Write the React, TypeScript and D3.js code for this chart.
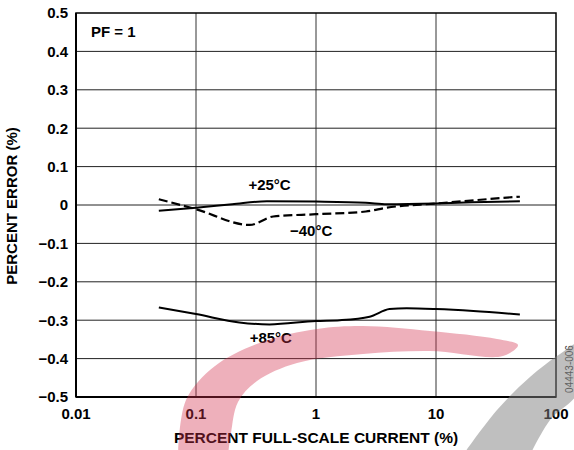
import React from "react";
import * as d3 from "d3";

const W = 574;
const H = 450;

const xTicks = [0.01, 0.1, 1, 10, 100];
const xTickLabels = ["0.01", "0.1", "1", "10", "100"];
const yTicks = [0.5, 0.4, 0.3, 0.2, 0.1, 0, -0.1, -0.2, -0.3, -0.4, -0.5];
const yTickLabels = ["0.5", "0.4", "0.3", "0.2", "0.1", "0", "\u22120.1", "\u22120.2", "\u22120.3", "\u22120.4", "\u22120.5"];

const current25 = [0.049, 0.1, 0.2, 0.39, 1, 2.6, 3.9, 10, 20, 50];
const err25 = [-0.015, -0.007, 0.002, 0.010, 0.009, 0.006, 0.002, 0.004, 0.007, 0.010];

const currentM40 = [0.049, 0.1, 0.28, 0.44, 1, 2.6, 3.9, 10, 50];
const errM40 = [0.015, -0.011, -0.052, -0.030, -0.024, -0.017, -0.007, 0.004, 0.022];

const current85 = [0.049, 0.1, 0.23, 0.41, 1, 1.58, 2.8, 4.1, 5.7, 10, 20.5, 50];
const err85 = [-0.267, -0.284, -0.306, -0.311, -0.302, -0.300, -0.291, -0.271, -0.269, -0.271, -0.276, -0.285];

const seriesLabels = [
  { text: "+25\u00B0C", x: 0.41, y: 0.053 },
  { text: "\u221240\u00B0C", x: 0.91, y: -0.067 },
  { text: "+85\u00B0C", x: 0.42, y: -0.345 },
];

const FONT = "'Liberation Sans', Arial, Helvetica, sans-serif";

export default function App() {
  const left = 76, right = 556, top = 13, bottom = 397;
  const x = d3.scaleLog().domain([0.01, 100]).range([left, right]);
  const y = d3.scaleLinear().domain([-0.5, 0.5]).range([bottom, top]);

  const line = d3
    .line<[number, number]>()
    .x((d) => x(d[0]))
    .y((d) => y(d[1]))
    .curve(d3.curveMonotoneX);

  const p25 = line(current25.map((c, i) => [c, err25[i]]) as [number, number][]) || "";
  const pM40 = line(currentM40.map((c, i) => [c, errM40[i]]) as [number, number][]) || "";
  const p85 = line(current85.map((c, i) => [c, err85[i]]) as [number, number][]) || "";

  // decorative watermark swooshes
  const wm = d3
    .line<[number, number]>()
    .x((d) => d[0])
    .y((d) => d[1])
    .curve(d3.curveCatmullRom);
  const pinkPts: [number, number][] = [
    [178, 455], [186, 400], [215, 366], [262, 342], [317, 329], [363, 326], [430, 331], [497, 339], [518, 345],
    [503, 356], [430, 351], [363, 354], [297, 363], [257, 381], [238, 402], [231, 433], [228, 455],
  ];
  const grayPts: [number, number][] = [
    [463, 455], [497, 410], [530, 377], [560, 354], [578, 344],
    [578, 392], [550, 420], [530, 455],
  ];

  return (
    <svg
      width={W}
      height={H}
      style={{ position: "absolute", left: 0, top: 0, background: "#fff" }}
      fontFamily={FONT}
    >
      <rect x={0} y={0} width={W} height={H} fill="#fff" />
      {/* grid */}
      {xTicks.slice(1, -1).map((t) => (
        <line key={"gx" + t} x1={x(t)} x2={x(t)} y1={top} y2={bottom} stroke="#333" strokeWidth={1} />
      ))}
      {yTicks.slice(1, -1).map((t) => (
        <line key={"gy" + t} x1={left} x2={right} y1={y(t)} y2={y(t)} stroke="#222" strokeWidth={1} />
      ))}
      <rect x={left} y={top} width={right - left} height={bottom - top} fill="none" stroke="#000" strokeWidth={1.5} />
      <line x1={left} x2={right} y1={bottom} y2={bottom} stroke="#000" strokeWidth={2.2} />
      <line x1={left} x2={left} y1={top} y2={bottom} stroke="#000" strokeWidth={2} />

      {/* curves */}
      <path d={p25} fill="none" stroke="#000" strokeWidth={2} />
      <path d={pM40} fill="none" stroke="#000" strokeWidth={2.2} strokeDasharray="9,4" />
      <path d={p85} fill="none" stroke="#000" strokeWidth={2} />

      {/* y ticks */}
      {yTicks.map((t, i) => (
        <text key={"yt" + t} x={68} y={y(t) + 5.4} textAnchor="end" fontSize={15} fontWeight="bold" fill="#000">
          {yTickLabels[i]}
        </text>
      ))}
      {xTicks.map((t, i) => (
        <text key={"xt" + t} x={x(t)} y={419} textAnchor="middle" fontSize={15} fontWeight="bold" fill="#000">
          {xTickLabels[i]}
        </text>
      ))}
      <text x={316} y={443} textAnchor="middle" fontSize={15.5} fontWeight="bold" fill="#000">
        PERCENT FULL-SCALE CURRENT (%)
      </text>
      <text
        transform={`translate(17,206) rotate(-90)`}
        textAnchor="middle"
        fontSize={15}
        fontWeight="bold"
        fill="#000"
      >
        PERCENT ERROR (%)
      </text>
      <text x={91} y={36.5} fontSize={15} fontWeight="bold" fill="#000">
        PF = 1
      </text>
      {seriesLabels.map((l) => (
        <text key={l.text} x={x(l.x)} y={y(l.y) + 5.4} textAnchor="middle" fontSize={15} fontWeight="bold" fill="#000">
          {l.text}
        </text>
      ))}
      <text
        transform={`translate(573,369) rotate(-90)`}
        textAnchor="middle"
        fontSize={10}
        fill="#444"
      >
        04443-006
      </text>

      {/* watermark */}
      <path d={(wm(pinkPts) || "") + "Z"} fill="#d32f4d" opacity={0.38} />
      <path d={(wm(grayPts) || "") + "Z"} fill="#808080" opacity={0.5} />
    </svg>
  );
}
